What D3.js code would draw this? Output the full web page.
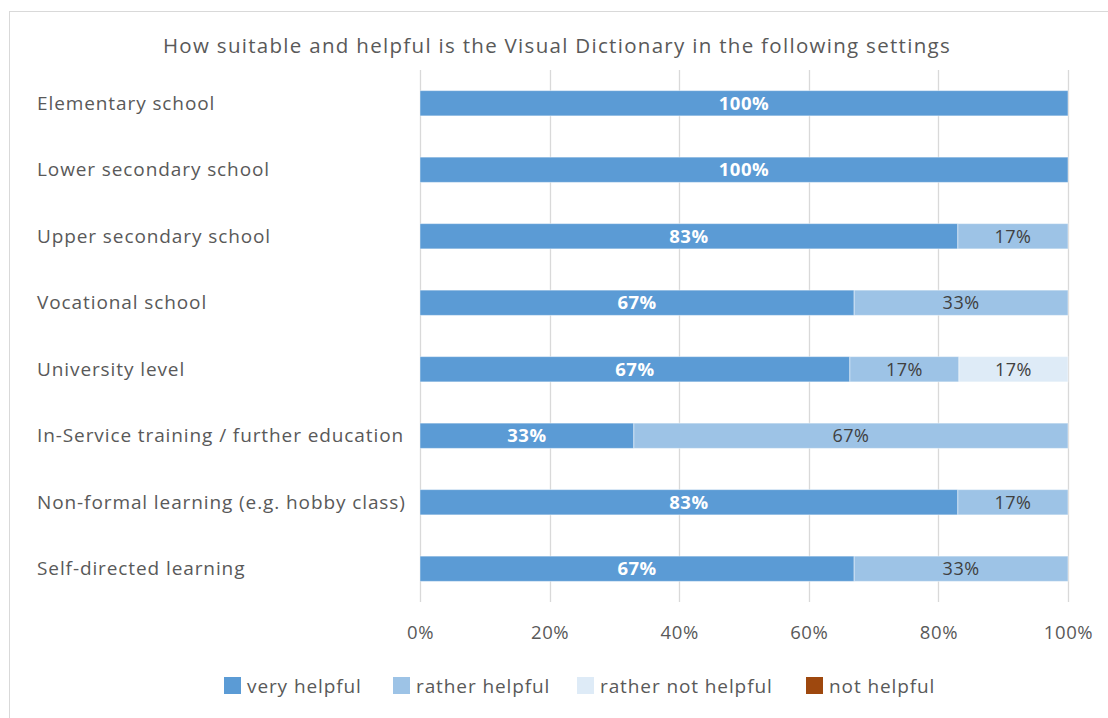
<!DOCTYPE html>
<html>
<head>
<meta charset="utf-8">
<script src="https://cdn.jsdelivr.net/npm/d3@7"></script>
<style>
  html, body { margin: 0; padding: 0; background: #fff; }
  svg { display: block; font-family: "Open Sans", "Noto Sans", sans-serif; }
</style>
</head>
<body>
<svg id="chart" width="1108" height="718"></svg>
<script>
// Survey settings (top to bottom)
const categories = [
  "Elementary school",
  "Lower secondary school",
  "Upper secondary school",
  "Vocational school",
  "University level",
  "In-Service training / further education",
  "Non-formal learning (e.g. hobby class)",
  "Self-directed learning"
];

// Share of answers per setting, in percent
const veryHelpful      = [100, 100, 83, 67, 67, 33, 83, 67];
const ratherHelpful    = [0, 0, 17, 33, 17, 67, 17, 33];
const ratherNotHelpful = [0, 0, 0, 0, 17, 0, 0, 0];
const notHelpful       = [0, 0, 0, 0, 0, 0, 0, 0];

const seriesNames = ["very helpful", "rather helpful", "rather not helpful", "not helpful"];
const seriesColors = ["#5B9BD5", "#9DC3E6", "#DEEBF7", "#9E480E"];
const xTickValues = [0, 0.2, 0.4, 0.6, 0.8, 1];

const title = "How suitable and helpful is the Visual Dictionary in the following settings";

const rows = categories.map((c, i) => ({
  category: c,
  "very helpful": veryHelpful[i],
  "rather helpful": ratherHelpful[i],
  "rather not helpful": ratherNotHelpful[i],
  "not helpful": notHelpful[i]
}));

const svg = d3.select("#chart");
const FONT = "'Open Sans', 'Noto Sans', sans-serif";

// chart frame
svg.append("rect")
  .attr("x", 9.5).attr("y", 11.5)
  .attr("width", 1110).attr("height", 720)
  .attr("fill", "none").attr("stroke", "#d9d9d9").attr("stroke-width", 1);

const plot = { left: 420, right: 1068, top: 70, bottom: 602 };

const x = d3.scaleLinear().domain([0, 1]).range([plot.left, plot.right]);
const y = d3.scaleBand().domain(categories)
  .range([plot.top, plot.bottom])
  .paddingInner(0.62).paddingOuter(0.31);

// 100% stacked layout
const stack = d3.stack().keys(seriesNames).offset(d3.stackOffsetExpand);
const series = stack(rows);

// title
svg.append("text")
  .attr("x", 557).attr("y", 53)
  .attr("text-anchor", "middle")
  .attr("font-size", 20.5)
  .attr("letter-spacing", 1.3)
  .attr("fill", "#595959")
  .text(title);

// vertical gridlines
svg.append("g").selectAll("line")
  .data(xTickValues).join("line")
  .attr("x1", d => Math.round(x(d)) + 0.5).attr("x2", d => Math.round(x(d)) + 0.5)
  .attr("y1", plot.top).attr("y2", plot.bottom)
  .attr("stroke", "#d9d9d9").attr("stroke-width", 1.3);

// x axis tick labels
const xAxis = d3.axisBottom(x).tickValues(xTickValues)
  .tickFormat(d3.format(".0%")).tickSize(0).tickPadding(0);
const gx = svg.append("g")
  .attr("transform", `translate(0, 639)`)
  .call(xAxis);
gx.select(".domain").remove();
gx.selectAll("text")
  .attr("dy", 0)
  .attr("font-size", 18.5)
  .attr("letter-spacing", 0.6)
  .attr("font-family", FONT)
  .attr("fill", "#595959");

// category labels
const yAxis = d3.axisLeft(y).tickSize(0).tickPadding(0);
const gy = svg.append("g").attr("transform", `translate(37, 0)`).call(yAxis);
gy.select(".domain").remove();
gy.selectAll("text")
  .attr("text-anchor", "start")
  .attr("x", 0)
  .attr("dy", "0.35em")
  .attr("font-size", 19)
  .attr("letter-spacing", 0.9)
  .attr("font-family", FONT)
  .attr("fill", "#595959");

// bars
const layers = svg.append("g").selectAll("g")
  .data(series).join("g")
  .attr("fill", (d, i) => seriesColors[i]);

layers.selectAll("rect")
  .data(d => d.map(p => ({ p, key: d.key })))
  .join("rect")
  .attr("x", d => x(d.p[0]))
  .attr("width", d => Math.max(0, x(d.p[1]) - x(d.p[0])))
  .attr("y", d => y(d.p.data.category))
  .attr("height", y.bandwidth())
  .attr("stroke", "#ffffff")
  .attr("stroke-opacity", 0.45)
  .attr("stroke-width", 1);

// value labels
layers.selectAll("text")
  .data(d => d.map(p => ({ p, key: d.key })).filter(d => d.p.data[d.key] > 0))
  .join("text")
  .attr("x", d => (x(d.p[0]) + x(d.p[1])) / 2)
  .attr("y", d => y(d.p.data.category) + y.bandwidth() / 2)
  .attr("dy", "0.36em")
  .attr("text-anchor", "middle")
  .attr("font-size", d => d.key === "very helpful" ? 18.5 : 18)
  .attr("letter-spacing", 0.5)
  .attr("font-weight", d => d.key === "very helpful" ? "bold" : "normal")
  .attr("fill", d => d.key === "very helpful" ? "#ffffff" : "#404040")
  .text(d => d.p.data[d.key] + "%");

// legend
const legendX = [224, 393, 577, 806];
const legend = svg.append("g").selectAll("g")
  .data(seriesNames).join("g")
  .attr("transform", (d, i) => `translate(${legendX[i]}, 677)`);
legend.append("rect")
  .attr("width", 17).attr("height", 17)
  .attr("fill", (d, i) => seriesColors[i]);
legend.append("text")
  .attr("x", 23).attr("y", 9).attr("dy", "0.35em")
  .attr("font-size", 19)
  .attr("letter-spacing", 0.9)
  .attr("fill", "#595959")
  .text(d => d);
</script>
</body>
</html>
